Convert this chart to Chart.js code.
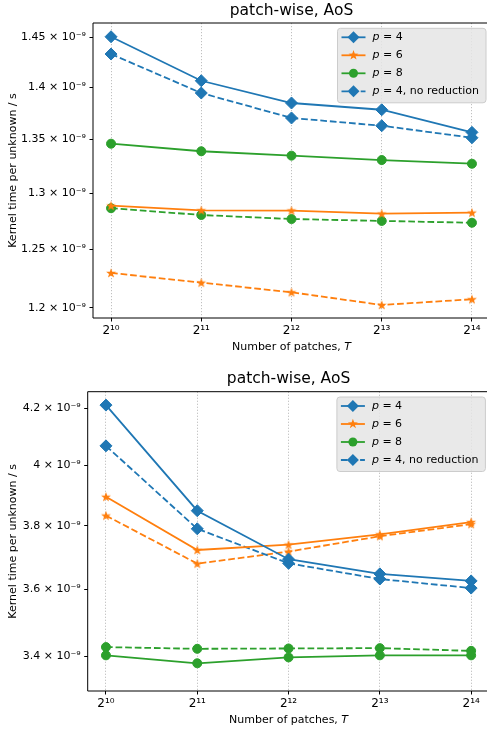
<!DOCTYPE html>
<html>
<head>
<meta charset="utf-8">
<script src="https://cdn.jsdelivr.net/npm/chart.js@4.4.1/dist/chart.umd.min.js"></script>
<style>
  html, body { margin: 0; padding: 0; background: #fff; overflow: hidden; }
  #wrap { position: relative; width: 487px; height: 733px; overflow: hidden; }
  .panel { position: absolute; left: 0; }
  #top { top: 0; }
  #bottom { top: 360px; }
</style>
</head>
<body>
<div id="wrap">
  <div class="panel" id="top"><canvas id="c1" width="492" height="360"></canvas></div>
  <div class="panel" id="bottom"><canvas id="c2" width="491" height="373"></canvas></div>
</div>
<script>
// number of patches T
const patches = [1024, 2048, 4096, 8192, 16384];

// top panel, kernel time per unknown (x 1e-9 s)
const topP4 = [1.4503, 1.4064, 1.3847, 1.3782, 1.3566];
const topP6 = [1.2889, 1.2847, 1.2845, 1.2817, 1.2826];
const topP8 = [1.3459, 1.3388, 1.3347, 1.3306, 1.3272];
const topP4NoRed = [1.4329, 1.3944, 1.3703, 1.3629, 1.3515];
const topP6NoRed = [1.2297, 1.2214, 1.2132, 1.2025, 1.2073];
const topP8NoRed = [1.2866, 1.2805, 1.2769, 1.2752, 1.2736];
const topTicks = [1.2, 1.25, 1.3, 1.35, 1.4, 1.45];

// bottom panel
const botP4 = [4.212, 3.849, 3.693, 3.647, 3.625];
const botP6 = [3.895, 3.722, 3.739, 3.772, 3.812];
const botP8 = [3.402, 3.379, 3.396, 3.402, 3.402];
const botP4NoRed = [4.068, 3.790, 3.680, 3.631, 3.603];
const botP6NoRed = [3.833, 3.679, 3.717, 3.766, 3.805];
const botP8NoRed = [3.426, 3.421, 3.422, 3.423, 3.415];
const botTicks = [3.4, 3.6, 3.8, 4.0, 4.2];

const labels = ['p = 4', 'p = 6', 'p = 8', 'p = 4, no reduction'];

const BLUE = '#1f77b4', ORANGE = '#ff7f0e', GREEN = '#2ca02c';
const FONT = '"DejaVu Sans", "Liberation Sans", sans-serif';
const DASH = [6.7, 2.9];

// marker shapes shared by plot points (star) and legend
function markerPath(ctx, shape, x, y) {
  ctx.beginPath();
  if (shape === 'diamond') {
    const r = 6;
    ctx.moveTo(x, y - r); ctx.lineTo(x + r, y); ctx.lineTo(x, y + r); ctx.lineTo(x - r, y);
    ctx.closePath();
  } else if (shape === 'circle') {
    ctx.arc(x, y, 4.5, 0, Math.PI * 2);
  } else {
    const ro = 5.2, ri = 2.1;
    for (let k = 0; k < 10; k++) {
      const r = k % 2 ? ri : ro;
      const a = -Math.PI / 2 + k * Math.PI / 5;
      k ? ctx.lineTo(x + r * Math.cos(a), y + r * Math.sin(a)) : ctx.moveTo(x + r * Math.cos(a), y + r * Math.sin(a));
    }
    ctx.closePath();
  }
}

const starImg = document.createElement('canvas');
starImg.width = 12; starImg.height = 12;
(function () {
  const c = starImg.getContext('2d');
  markerPath(c, 'star', 6, 6.4);
  c.fillStyle = ORANGE; c.fill();
})();

const sup = { '0': '⁰', '1': '¹', '2': '²', '3': '³', '4': '⁴', '5': '⁵', '6': '⁶', '7': '⁷', '8': '⁸', '9': '⁹' };

function series(vals, color, marker, dashed, label) {
  return {
    label: label || '',
    inLegend: !!label,
    marker: marker,
    data: patches.map((t, i) => ({ x: t, y: vals[i] })),
    borderColor: color,
    backgroundColor: color,
    borderWidth: 1.8,
    borderDash: dashed ? DASH : [],
    pointStyle: marker === 'diamond' ? 'rectRot' : marker === 'circle' ? 'circle' : starImg,
    pointRadius: marker === 'diamond' ? 6 : 4.5,
    pointBorderWidth: 1,
    pointBorderColor: color,
    pointBackgroundColor: color,
    tension: 0,
    fill: false
  };
}

// axes spines (right one falls outside the figure) and x-axis title with italic T
const frame = {
  id: 'frame',
  afterDatasetsDraw(chart) {
    const { ctx, chartArea: a } = chart;
    ctx.save();
    ctx.setLineDash([]);
    ctx.strokeStyle = '#000';
    ctx.lineWidth = 1;
    ctx.beginPath();
    ctx.moveTo(a.right + 1, a.top); ctx.lineTo(a.left, a.top);
    ctx.lineTo(a.left, a.bottom); ctx.lineTo(a.right + 1, a.bottom);
    ctx.stroke();
    const t1 = 'Number of patches, ', t2 = 'T';
    ctx.font = '11px ' + FONT;
    const w1 = ctx.measureText(t1).width;
    ctx.font = 'italic 11px ' + FONT;
    const w2 = ctx.measureText(t2).width;
    const x0 = (a.left + a.right) / 2 - (w1 + w2) / 2;
    const y = chart.height - 13;
    ctx.fillStyle = '#000';
    ctx.textBaseline = 'middle';
    ctx.font = '11px ' + FONT; ctx.fillText(t1, x0, y);
    ctx.font = 'italic 11px ' + FONT; ctx.fillText(t2, x0 + w1, y);
    ctx.restore();
  }
};

const boxLegend = {
  id: 'boxLegend',
  afterDraw(chart) {
    const { ctx, chartArea: a } = chart;
    const items = chart.data.datasets.filter(d => d.inLegend);
    const it = 'italic 11px ' + FONT, rm = '11px ' + FONT;
    ctx.save();
    let textW = 0;
    items.forEach(d => {
      ctx.font = it; let w = ctx.measureText(d.label[0]).width;
      ctx.font = rm; w += ctx.measureText(d.label.slice(1)).width;
      textW = Math.max(textW, w);
    });
    const rowH = 18, padL = 4, lineLen = 24, gap = 7, padR = 7;
    const w = padL + lineLen + gap + textW + padR;
    const h = items.length * rowH + 2.5;
    const x0 = a.right - 4 - w, y0 = a.top + 5.3;
    ctx.beginPath();
    ctx.roundRect(x0, y0, w, h, 3);
    ctx.fillStyle = 'rgba(229,229,229,0.85)';
    ctx.fill();
    ctx.strokeStyle = '#cccccc';
    ctx.lineWidth = 1;
    ctx.stroke();
    items.forEach((d, i) => {
      const cy = y0 + 9 + i * rowH;
      const lx = x0 + padL;
      ctx.strokeStyle = d.borderColor;
      ctx.lineWidth = d.borderWidth;
      ctx.setLineDash(d.borderDash);
      ctx.beginPath(); ctx.moveTo(lx, cy); ctx.lineTo(lx + lineLen, cy); ctx.stroke();
      ctx.setLineDash([]);
      markerPath(ctx, d.marker, lx + lineLen / 2, cy);
      ctx.fillStyle = d.borderColor; ctx.fill();
      ctx.fillStyle = '#000';
      ctx.textBaseline = 'middle';
      const tx = lx + lineLen + gap;
      ctx.font = it; ctx.fillText(d.label[0], tx, cy);
      const pw = ctx.measureText(d.label[0]).width;
      ctx.font = rm; ctx.fillText(d.label.slice(1), tx + pw, cy);
    });
    ctx.restore();
  }
};

function makeChart(id, sets, ticks, ymin, ymax, yWidth, titlePad, padRight) {
  return new Chart(document.getElementById(id), {
    type: 'line',
    data: { datasets: sets },
    plugins: [frame, boxLegend],
    options: {
      responsive: false,
      animation: false,
      layout: { autoPadding: false, padding: { left: 0, right: padRight, top: 0, bottom: 0 } },
      plugins: {
        legend: { display: false },
        tooltip: { enabled: false },
        title: {
          display: true,
          fullSize: false,
          text: 'patch-wise, AoS',
          color: '#000',
          font: { family: FONT, size: 15.5, weight: 'normal' },
          padding: titlePad
        }
      },
      scales: {
        x: {
          type: 'logarithmic',
          min: Math.pow(2, 9.8),
          max: Math.pow(2, 14.2),
          afterBuildTicks: s => { s.ticks = patches.map(v => ({ value: v })); },
          afterFit: s => { s.height = 42; s.paddingLeft = 0; s.paddingRight = 0; },
          border: { display: false, dash: [1.2, 1.8] },
          grid: { color: '#b0b0b0', lineWidth: 0.8, tickLength: 3.5, tickColor: '#000', tickWidth: 1, drawTicks: true },
          ticks: {
            autoSkip: false, maxRotation: 0, padding: 2, color: '#000',
            font: { family: FONT, size: 12 },
            callback: v => '2' + String(Math.round(Math.log2(v))).split('').map(c => sup[c]).join('')
          },
          title: { display: false }
        },
        y: {
          type: 'logarithmic',
          min: ymin,
          max: ymax,
          afterBuildTicks: s => { s.ticks = ticks.map(v => ({ value: v })); },
          afterFit: s => { s.width = yWidth; s.paddingTop = 0; s.paddingBottom = 0; },
          border: { display: false },
          grid: { drawOnChartArea: false, drawTicks: true, tickLength: 3.5, tickColor: '#000', tickWidth: 1 },
          ticks: {
            padding: 3.5, color: '#000',
            font: { family: FONT, size: 11 },
            callback: v => String(Math.round(v * 100) / 100) + ' × 10⁻⁹'
          },
          title: {
            display: true, text: 'Kernel time per unknown / s', color: '#000',
            font: { family: FONT, size: 11 }, padding: { top: 6.4, bottom: 0 }
          }
        }
      }
    }
  });
}

makeChart('c1', [
  series(topP4, BLUE, 'diamond', false, labels[0]),
  series(topP6, ORANGE, 'star', false, labels[1]),
  series(topP8, GREEN, 'circle', false, labels[2]),
  series(topP4NoRed, BLUE, 'diamond', true, labels[3]),
  series(topP6NoRed, ORANGE, 'star', true),
  series(topP8NoRed, GREEN, 'circle', true)
], topTicks, 1.1916, 1.4643, 93, { top: 1.7, bottom: 2.7 }, 2);

makeChart('c2', [
  series(botP4, BLUE, 'diamond', false, labels[0]),
  series(botP6, ORANGE, 'star', false, labels[1]),
  series(botP8, GREEN, 'circle', false, labels[2]),
  series(botP4NoRed, BLUE, 'diamond', true, labels[3]),
  series(botP6NoRed, ORANGE, 'star', true),
  series(botP8NoRed, GREEN, 'circle', true)
], botTicks, 3.3416, 4.2605, 87.7, { top: 10, bottom: 3.1 }, 1.6);
</script>
</body>
</html>
